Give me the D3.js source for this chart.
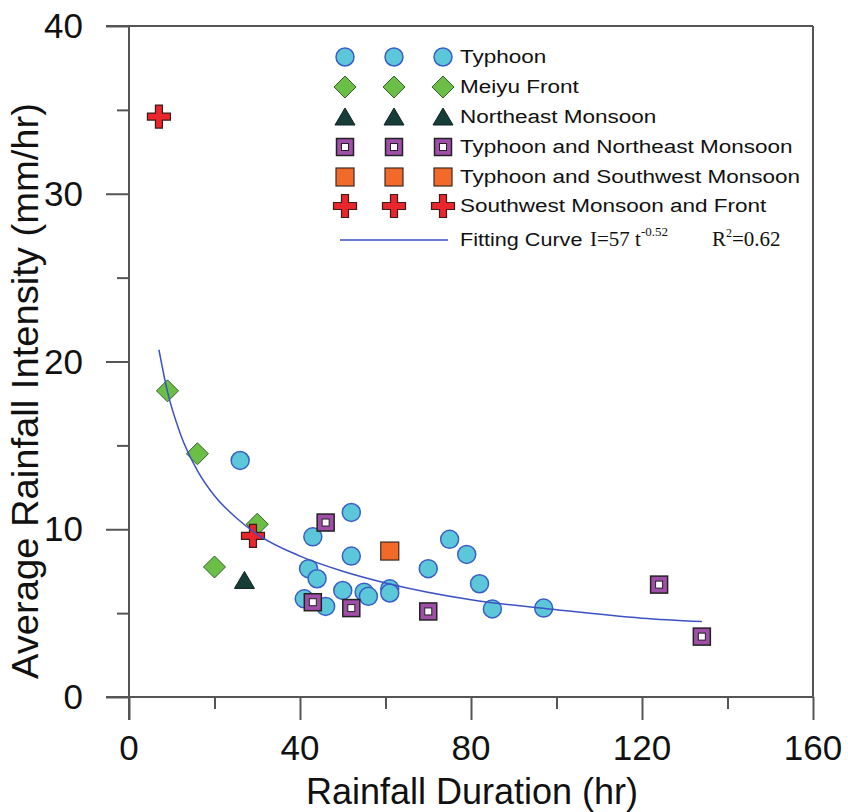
<!DOCTYPE html>
<html>
<head>
<meta charset="utf-8">
<script src="https://cdn.jsdelivr.net/npm/d3@7"></script>
<style>
  body { margin: 0; background: #fff; }
  text { font-family: Arial, "Liberation Sans", sans-serif; fill: #111; }
</style>
</head>
<body>
<div id="chart"></div>
<script>
// values: duration (hr) and intensity (mm/hr)
const typhoonT = [26, 52, 43, 52, 75, 79, 70, 42, 44, 50, 55, 56, 61, 61, 41, 46, 82, 85, 97];
const typhoonI = [14.1, 11.0, 9.55, 8.4, 9.4, 8.5, 7.65, 7.65, 7.05, 6.35, 6.25, 6.0, 6.45, 6.2, 5.85, 5.4, 6.75, 5.25, 5.3];
const meiyuT = [9, 16, 30, 20];
const meiyuI = [18.25, 14.5, 10.3, 7.75];
const neMonsoonT = [27];
const neMonsoonI = [6.95];
const typhoonNeT = [46, 43, 52, 70, 124, 134];
const typhoonNeI = [10.4, 5.65, 5.3, 5.1, 6.7, 3.6];
const typhoonSwT = [61];
const typhoonSwI = [8.7];
const swFrontT = [7, 29];
const swFrontI = [34.6, 9.6];
// fitting curve, points
const fitT = [7, 9, 12, 16, 20, 25, 30, 40, 50, 60, 80, 100, 120, 134];
const fitI = [20.7, 18.2, 15.7, 13.5, 12.0, 10.7, 9.7, 8.4, 7.5, 6.8, 5.8, 5.2, 4.7, 4.5];

const xTicks = [0, 40, 80, 120, 160];
const yTicks = [0, 10, 20, 30, 40];
const seriesNames = ["Typhoon", "Meiyu Front", "Northeast Monsoon", "Typhoon and Northeast Monsoon",
  "Typhoon and Southwest Monsoon", "Southwest Monsoon and Front"];

const W = 848, H = 812;
const m = { left: 129, right: 35, top: 26, bottom: 115 };

const svg = d3.select("#chart").append("svg")
  .attr("width", W).attr("height", H);

const x = d3.scaleLinear().domain([0, 160]).range([m.left, W - m.right]);
const y = d3.scaleLinear().domain([0, 40]).range([H - m.bottom, m.top]);

const axisCol = "#555";

// frame (top and right sides)
svg.append("line").attr("x1", x(0) - 23).attr("x2", x(160)).attr("y1", y(40)).attr("y2", y(40))
  .attr("stroke", axisCol).attr("stroke-width", 2);
svg.append("line").attr("x1", x(160)).attr("x2", x(160)).attr("y1", y(40)).attr("y2", y(0))
  .attr("stroke", axisCol).attr("stroke-width", 2);

// axes
const xAxis = d3.axisBottom(x).tickValues(d3.range(0, 161, 20)).tickSize(12).tickFormat("");
const gx = svg.append("g").attr("transform", `translate(0,${y(0)})`).call(xAxis);
const yAxis = d3.axisLeft(y).tickValues(d3.range(0, 41, 5)).tickSize(12).tickFormat("");
const gy = svg.append("g").attr("transform", `translate(${x(0)},0)`).call(yAxis);

[gx, gy].forEach(g => {
  g.select(".domain").remove();
  g.selectAll("line").attr("stroke", axisCol).attr("stroke-width", 2);
});
gx.selectAll(".tick line").filter(d => d % 40 === 0).attr("y2", 23);
gy.selectAll(".tick line").filter(d => d % 10 === 0).attr("x2", -23);

svg.append("line").attr("x1", x(0) - 23).attr("x2", x(160)).attr("y1", y(0)).attr("y2", y(0))
  .attr("stroke", axisCol).attr("stroke-width", 2);
svg.append("line").attr("x1", x(0)).attr("x2", x(0)).attr("y1", y(40)).attr("y2", y(0) + 23)
  .attr("stroke", axisCol).attr("stroke-width", 2);

// tick labels
svg.selectAll(".xl").data(xTicks).enter().append("text")
  .attr("x", d => x(d)).attr("y", y(0) + 63)
  .attr("text-anchor", "middle").attr("font-size", 35).text(d => d);
svg.selectAll(".yl").data(yTicks).enter().append("text")
  .attr("x", x(0) - 46).attr("y", d => y(d) + 12)
  .attr("text-anchor", "end").attr("font-size", 35).text(d => d);

// axis titles
svg.append("text").attr("x", (x(0) + x(160)) / 2 + 1).attr("y", H - 8)
  .attr("text-anchor", "middle").attr("font-size", 36)
  .text("Rainfall Duration (hr)");
svg.append("text")
  .attr("transform", `translate(38,391) rotate(-90)`)
  .attr("text-anchor", "middle").attr("font-size", 36)
  .attr("textLength", 576).attr("lengthAdjust", "spacingAndGlyphs")
  .text("Average Rainfall Intensity (mm/hr)");

// marker painters
const markers = [
  g => g.append("circle").attr("r", 9).attr("fill", "#5cc7d8").attr("stroke", "#3a5ec8").attr("stroke-width", 1.5),
  g => g.append("path").attr("d", "M0,-11L11,0L0,11L-11,0Z").attr("fill", "#6cbf46").attr("stroke", "#35602a").attr("stroke-width", 1),
  g => g.append("path").attr("d", "M0,-9L10,8L-10,8Z").attr("fill", "#173d39").attr("stroke", "#0d2220").attr("stroke-width", 1),
  g => {
    g.append("rect").attr("x", -8.5).attr("y", -8.5).attr("width", 17).attr("height", 17)
      .attr("fill", "#a14ea9").attr("stroke", "#222").attr("stroke-width", 1.5);
    g.append("rect").attr("x", -3.5).attr("y", -3.5).attr("width", 7).attr("height", 7)
      .attr("fill", "#fff").attr("stroke", "#222").attr("stroke-width", 1);
  },
  g => g.append("rect").attr("x", -9).attr("y", -9).attr("width", 18).attr("height", 18)
    .attr("fill", "#f26a29").attr("stroke", "#3a2a22").attr("stroke-width", 1.2),
  g => g.append("path").attr("d", "M-3.5,-11.5H3.5V-3.5H11.5V3.5H3.5V11.5H-3.5V3.5H-11.5V-3.5H-3.5Z")
    .attr("fill", "#e8262c").attr("stroke", "#3a1a1a").attr("stroke-width", 1.2)
];

const series = [
  [typhoonT, typhoonI], [meiyuT, meiyuI], [neMonsoonT, neMonsoonI],
  [typhoonNeT, typhoonNeI], [typhoonSwT, typhoonSwI], [swFrontT, swFrontI]
];

series.forEach(([ts, is], k) => {
  ts.forEach((t, i) => {
    const g = svg.append("g").attr("transform", `translate(${x(t)},${y(is[i])})`);
    markers[k](g);
  });
});

// fitting curve on top
const line = d3.line().x(d => x(d[0])).y(d => y(d[1])).curve(d3.curveMonotoneX);
svg.append("path").datum(fitT.map((t, i) => [t, fitI[i]]))
  .attr("d", line).attr("fill", "none").attr("stroke", "#3d52c4").attr("stroke-width", 1.5);

// legend
const legX = [345, 394, 443];
const legY = [57, 87, 117, 147, 177, 206];
seriesNames.forEach((name, k) => {
  legX.forEach(lx => markers[k](svg.append("g").attr("transform", `translate(${lx},${legY[k]})`)));
  svg.append("text").attr("transform", `translate(460,${legY[k] + 6}) scale(1.25,1)`)
    .attr("font-size", 18).text(name);
});
svg.append("line").attr("x1", 340).attr("x2", 448).attr("y1", 240).attr("y2", 240)
  .attr("stroke", "#3d52c4").attr("stroke-width", 1.5);
svg.append("text").attr("transform", "translate(460,246) scale(1.2,1)")
  .attr("font-size", 18).text("Fitting Curve");
const serif = "'Times New Roman', 'Liberation Serif', serif";
const fit = svg.append("text").attr("x", 590).attr("y", 246)
  .attr("font-size", 21).style("font-family", serif);
fit.append("tspan").text("I=57 t");
fit.append("tspan").attr("dy", -10).attr("font-size", 13).text("-0.52");
const r2 = svg.append("text").attr("x", 712).attr("y", 246)
  .attr("font-size", 21).style("font-family", serif);
r2.append("tspan").text("R");
r2.append("tspan").attr("dy", -9).attr("font-size", 12).text("2");
r2.append("tspan").attr("dy", 9).text("=0.62");
</script>
</body>
</html>
